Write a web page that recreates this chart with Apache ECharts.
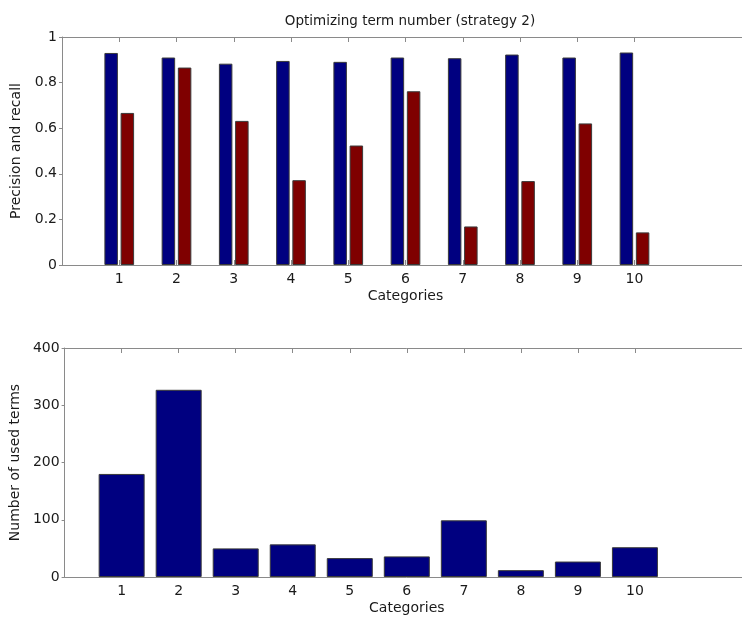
<!DOCTYPE html>
<html>
<head>
<meta charset="utf-8">
<script src="https://cdn.jsdelivr.net/npm/echarts@6/dist/echarts.min.js"></script>
<style>
html,body{margin:0;padding:0;background:#fff;overflow:hidden;width:742px;height:620px;}
#chart{width:760px;height:620px;}
</style>
</head>
<body>
<div id="chart"></div>
<script>
const categories = ['1','2','3','4','5','6','7','8','9','10'];
const precision = [0.93, 0.91, 0.883, 0.895, 0.891, 0.91, 0.907, 0.923, 0.91, 0.932];
const recall = [0.667, 0.866, 0.632, 0.372, 0.524, 0.762, 0.169, 0.368, 0.621, 0.143];
const usedTerms = [180, 327, 50, 57, 33, 36, 99, 12, 27, 52];
const precisionTicks = [0, 0.2, 0.4, 0.6, 0.8, 1];
const termTicks = [0, 100, 200, 300, 400];
const titleText = 'Optimizing term number (strategy 2)';
const xName = 'Categories';
const yName1 = 'Precision and recall';
const yName2 = 'Number of used terms';

// padded category list: empty slot at 0, 11, 12 so that axis spans 0..12
const axisCats = ['_0', ...categories, '_11', '_12'];
const pad = arr => [null, ...arr, null, null];
const isReal = (i) => i >= 1 && i <= categories.length;

const FONT = 'DejaVu Sans';
const AXIS_COLOR = '#8a8a8a';
const TEXT_COLOR = '#1a1a1a';

function xBottom(gridIndex) {
  return {
    type: 'category', gridIndex, data: axisCats, boundaryGap: false, position: 'bottom',
    name: xName, nameLocation: 'middle', nameGap: 24,
    nameTextStyle: {fontFamily: FONT, fontSize: 14, color: TEXT_COLOR},
    axisLine: {show: true, lineStyle: {color: AXIS_COLOR, width: 1}},
    axisTick: {show: true, inside: true, length: 5, alignWithLabel: true,
      interval: (i) => isReal(i), lineStyle: {color: AXIS_COLOR}},
    axisLabel: {show: true, interval: (i) => isReal(i), margin: 7,
      formatter: (v) => v.charAt(0) === '_' ? '' : v,
      fontFamily: FONT, fontSize: 14, color: TEXT_COLOR},
    splitLine: {show: false}
  };
}
function xTop(gridIndex) {
  return {
    type: 'category', gridIndex, data: axisCats, boundaryGap: false, position: 'top',
    axisLine: {show: true, lineStyle: {color: AXIS_COLOR, width: 1}},
    axisTick: {show: true, inside: true, length: 5, interval: (i) => isReal(i), lineStyle: {color: AXIS_COLOR}},
    axisLabel: {show: false}, splitLine: {show: false}
  };
}
function yLeft(gridIndex, ticks, name, nameGap) {
  return {
    type: 'value', gridIndex, min: ticks[0], max: ticks[ticks.length - 1],
    interval: ticks[1] - ticks[0],
    name, nameLocation: 'middle', nameGap,
    nameTextStyle: {fontFamily: FONT, fontSize: 14, color: TEXT_COLOR},
    axisLine: {show: true, lineStyle: {color: AXIS_COLOR, width: 1}},
    axisTick: {show: true, inside: false, length: 3, lineStyle: {color: AXIS_COLOR}},
    axisLabel: {margin: 5, fontFamily: FONT, fontSize: 14, color: TEXT_COLOR},
    splitLine: {show: false}
  };
}

const chart = echarts.init(document.getElementById('chart'), null, {renderer: 'canvas', width: 760, height: 620});
chart.setOption({
  animation: false,
  backgroundColor: '#ffffff',
  title: {
    text: titleText, left: 405, top: 9, textAlign: 'center',
    textStyle: {fontFamily: FONT, fontSize: 13.5, fontWeight: 'normal', color: TEXT_COLOR}
  },
  grid: [
    {left: 62, top: 37, width: 687, height: 228, show: false},
    {left: 62, top: 348, width: 687, height: 229, show: false}
  ],
  xAxis: [xBottom(0), xTop(0), xBottom(1), xTop(1)],
  yAxis: [yLeft(0, precisionTicks, yName1, 32), yLeft(1, termTicks, yName2, 37)],
  series: [
    {type: 'bar', name: 'Precision', xAxisIndex: 0, yAxisIndex: 0, data: pad(precision),
      barWidth: 13.5, barGap: '20%',
      itemStyle: {color: '#000080', borderColor: '#3a3a3a', borderWidth: 1}},
    {type: 'bar', name: 'Recall', xAxisIndex: 0, yAxisIndex: 0, data: pad(recall),
      barWidth: 13.5, barGap: '20%',
      itemStyle: {color: '#7f0000', borderColor: '#3a3a3a', borderWidth: 1}},
    {type: 'bar', name: 'Used terms', xAxisIndex: 2, yAxisIndex: 1, data: pad(usedTerms),
      barWidth: 46,
      itemStyle: {color: '#000080', borderColor: '#3a3a3a', borderWidth: 1}}
  ]
});
</script>
</body>
</html>
